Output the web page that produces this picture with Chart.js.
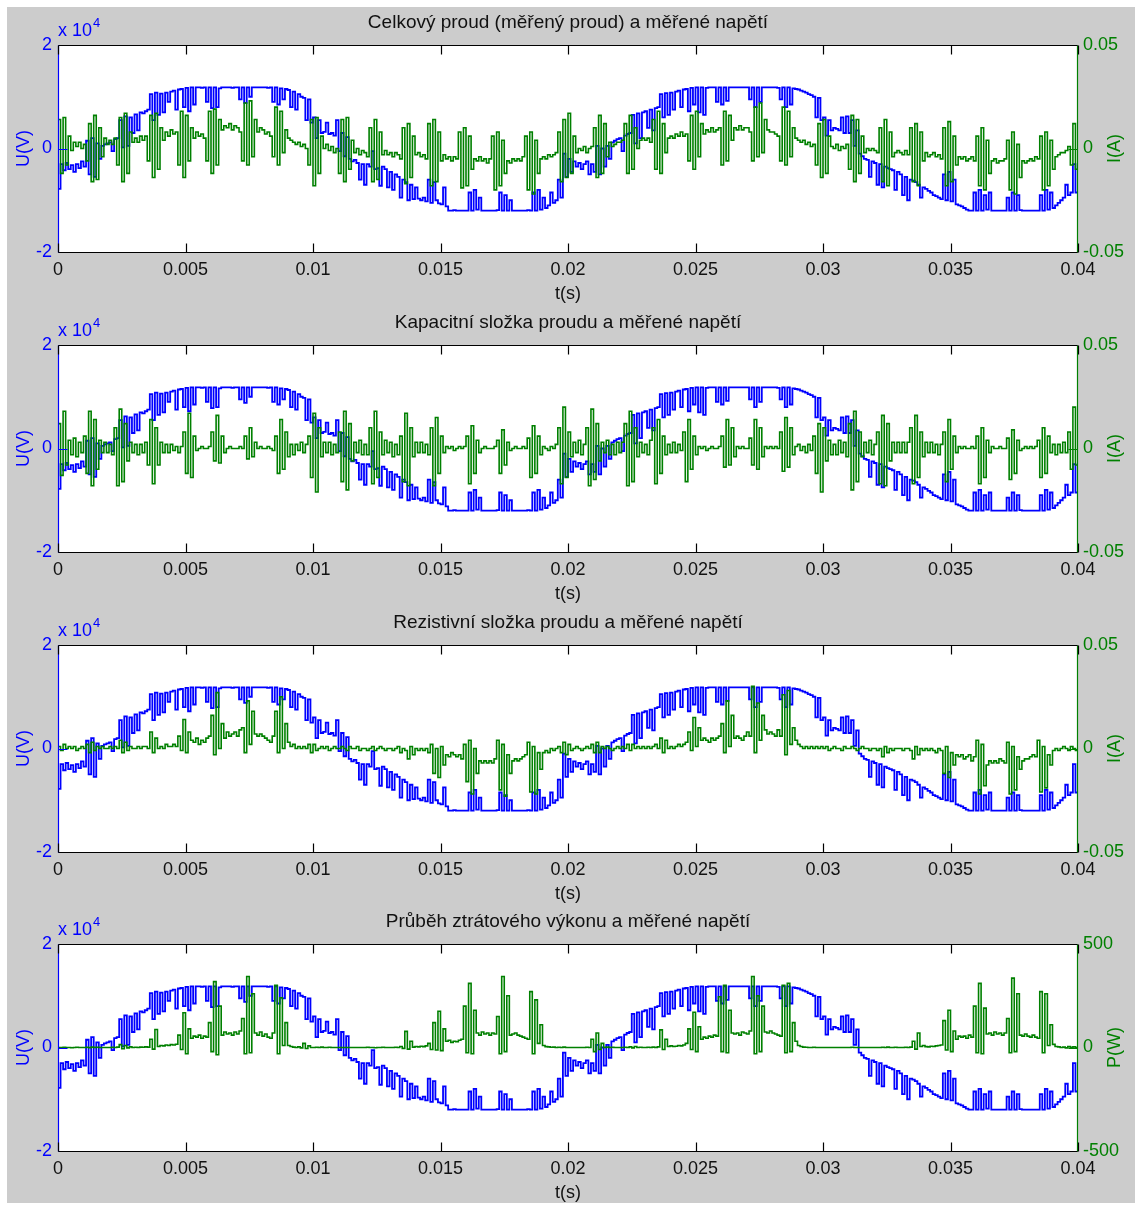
<!DOCTYPE html>
<html>
<head>
<meta charset="utf-8">
<title>Proud a napětí</title>
<script src="https://cdn.jsdelivr.net/npm/chart.js@4.4.1/dist/chart.umd.min.js"></script>
<style>
  body { margin: 0; background: #fff; width: 1135px; height: 1205px; overflow: hidden; }
  #figura { position: absolute; left: 7px; top: 7px; width: 1128px; height: 1196px; background: #cccccc; }
  canvas { position: absolute; left: 0; }
</style>
</head>
<body>
<div id="figura"></div>
<canvas id="g1" width="1135" height="310" style="top:0px"></canvas>
<canvas id="g2" width="1135" height="310" style="top:300px"></canvas>
<canvas id="g3" width="1135" height="310" style="top:600px"></canvas>
<canvas id="g4" width="1135" height="306" style="top:899px"></canvas>
<script>
// vzorky po 0.1 ms, t = 0 .. 0.04 s (jeden řádek = 1 ms)
const KROK = 0.0001;

// měřené napětí [x 10^4 V]
const napeti = [
  -0.78,-0.30,-0.42,-0.28,-0.40,-0.32,-0.45,-0.30,-0.38,-0.25,
  -0.35,0.15,-0.50,0.20,-0.55,0.10,-0.20,0.05,0.08,0.10,
  0.12,-0.05,0.18,0.20,0.55,0.02,0.62,0.05,0.60,0.30,
  0.66,0.35,0.70,0.68,0.72,0.75,1.05,0.55,1.08,0.65,
  1.06,0.70,1.08,0.90,1.10,1.12,0.75,1.14,1.15,0.80,
  1.17,0.72,1.18,0.85,1.18,1.18,1.17,1.18,0.90,1.18,
  0.78,1.18,0.80,1.16,1.18,1.18,1.18,1.18,1.17,1.18,
  1.18,0.95,1.18,0.88,1.18,1.00,1.18,1.18,1.18,1.18,
  1.18,1.18,1.17,1.18,0.90,1.18,0.85,1.16,0.95,1.15,
  1.13,0.80,1.10,0.75,1.05,1.00,0.98,0.55,0.95,0.50,
  0.60,0.20,0.55,0.30,0.32,0.50,0.28,0.30,0.25,0.55,
  -0.05,0.30,-0.15,0.22,-0.20,-0.25,-0.22,-0.28,-0.60,-0.30,
  -0.70,-0.30,-0.35,-0.05,-0.40,-0.38,-0.72,-0.35,-0.40,-0.75,
  -0.45,-0.80,-0.50,-0.55,-0.95,-0.60,-0.65,-1.00,-0.70,-0.98,
  -0.75,-0.97,-1.00,-0.95,-1.02,-0.60,-1.05,-0.65,-1.00,-1.06,
  -1.08,-0.75,-1.12,-1.20,-1.20,-1.19,-1.20,-1.20,-1.20,-1.20,
  -1.20,-0.85,-1.20,-0.80,-1.18,-0.95,-1.20,-1.20,-1.20,-1.20,
  -1.20,-1.20,-1.19,-0.85,-1.20,-0.90,-1.20,-1.00,-1.20,-1.20,
  -1.20,-1.20,-1.20,-1.20,-1.19,-1.20,-0.85,-1.20,-0.80,-1.18,
  -0.95,-1.15,-1.10,-0.85,-1.05,-1.00,-0.60,-0.95,-0.10,-0.55,
  -0.20,-0.45,-0.25,-0.35,-0.28,-0.40,-0.30,-0.25,-0.50,-0.30,
  -0.45,0.05,-0.50,0.00,-0.35,0.05,-0.20,0.12,0.15,0.18,
  0.20,-0.05,0.25,0.28,0.30,0.65,0.10,0.68,0.20,0.70,
  0.72,0.40,0.75,0.35,0.78,0.80,1.05,0.60,1.07,0.65,
  1.08,0.75,1.10,1.12,0.80,1.14,1.15,0.72,1.17,0.85,
  1.18,0.70,1.18,0.65,1.17,1.18,1.18,1.18,0.90,1.18,
  0.85,1.18,0.92,1.18,1.18,1.18,1.18,1.18,1.18,1.18,
  1.18,0.95,1.18,0.80,1.18,0.90,1.18,1.18,1.18,1.18,
  1.18,1.18,1.17,0.95,1.18,0.80,1.18,0.85,1.16,1.15,
  1.14,1.12,1.10,1.08,1.05,1.03,1.00,0.60,0.98,0.55,
  0.60,0.25,0.55,0.35,0.40,0.38,0.35,0.60,0.30,0.62,
  0.30,0.55,0.05,0.35,-0.10,-0.15,-0.20,-0.22,-0.55,-0.25,
  -0.28,-0.70,-0.30,-0.75,-0.35,-0.38,-0.40,-0.42,-0.80,-0.45,
  -0.50,-0.90,-0.55,-1.00,-0.60,-0.62,-0.65,-0.70,-0.95,-0.75,
  -0.78,-0.82,-0.85,-0.90,-0.92,-0.95,-0.98,-0.50,-1.00,-0.45,
  -1.02,-0.60,-1.08,-1.10,-1.12,-1.15,-1.18,-1.20,-1.20,-0.85,
  -1.20,-0.80,-1.20,-0.90,-1.18,-0.85,-1.20,-1.20,-1.20,-1.20,
  -1.20,-1.20,-0.95,-1.20,-0.85,-1.20,-0.90,-1.19,-1.20,-1.20,
  -1.20,-1.20,-1.20,-1.20,-1.20,-0.90,-1.20,-0.80,-1.18,-0.85,
  -1.15,-1.10,-1.05,-1.00,-0.95,-0.70,-0.90,-0.85,-0.30,-0.85,
  -0.25
];

// celkový (měřený) proud [A]
const proudCelkovy = [
  .014,-.012,.015,-.008,.006,-.001,.003,.001,.003,.000,
  .002,-.006,.012,-.016,.016,-.015,.010,-.004,.005,.002,
  .004,.002,.005,-.008,.015,-.016,.017,-.012,.008,.003,
  .005,.003,.006,.004,.006,-.006,.016,-.014,.017,-.010,
  .010,.004,.008,.006,.009,.007,.008,-.008,.018,-.014,
  .016,-.006,.010,.005,.008,.006,.007,.005,-.006,.018,
  -.012,.019,-.008,.014,.009,.011,.010,.012,.009,.011,
  .010,.008,-.006,.022,-.008,.023,-.004,.014,.008,.010,
  .009,.007,.008,.006,-.004,.020,-.008,.018,-.002,.009,
  .005,.004,.003,.002,.003,.001,.002,.000,-.008,.014,
  -.018,.015,-.012,.006,.000,.002,-.001,.001,-.002,.000,
  -.012,.014,-.016,.015,-.010,.004,-.002,.000,-.003,-.001,
  -.002,-.004,.010,-.016,.014,-.015,.008,-.003,-.001,-.003,
  -.002,-.004,-.002,-.003,-.005,.010,-.017,.012,-.014,.006,
  -.003,-.002,-.004,-.003,-.005,.012,-.018,.014,-.016,.008,
  -.006,-.003,-.005,-.004,-.006,-.004,-.005,.008,-.019,.010,
  -.018,.006,-.010,-.005,-.006,-.004,-.006,-.005,-.007,-.005,
  .006,-.020,.008,-.018,.004,-.012,-.006,-.007,-.005,-.006,
  -.005,-.006,-.004,.006,-.020,.008,-.022,.004,-.012,-.005,
  -.004,-.005,-.003,-.004,-.003,-.002,.008,-.016,.014,-.014,
  .017,-.012,.006,-.002,.000,-.001,.001,-.002,.000,.001,
  .010,-.014,.016,-.012,.012,-.004,.003,.001,.002,.003,
  .003,.004,.012,-.012,.016,-.010,.010,.000,.004,.005,
  .004,.005,.003,.014,-.010,.018,-.012,.012,-.002,.005,
  .006,.005,.007,.006,.008,.006,.007,-.006,.016,-.010,
  .018,-.004,.012,.007,.009,.008,.010,.008,.009,.010,
  -.008,.018,-.006,.016,.004,.010,.009,.011,.009,.010,
  .010,.008,-.006,.020,-.004,.022,-.002,.014,.009,.008,
  .008,.007,.006,-.006,.020,-.008,.018,-.004,.010,.005,
  .004,.003,.004,.002,.003,.001,.002,-.008,.012,-.014,
  .014,-.012,.006,.001,.000,.002,-.001,.001,.000,.002,
  -.010,.016,-.016,.014,-.012,.006,-.002,.000,-.001,.000,
  -.001,-.002,.010,-.016,.014,-.018,.008,-.004,-.002,-.001,
  -.002,-.003,-.001,-.003,.010,-.016,.012,-.018,.008,-.006,
  -.002,-.004,-.003,-.002,-.004,-.003,-.005,.010,-.018,.013,
  -.016,.006,-.008,-.004,-.005,-.004,-.006,-.005,-.004,-.006,
  .006,-.018,.010,-.020,.004,-.012,-.006,-.005,-.007,-.006,
  -.006,-.005,.004,-.020,.008,-.022,.002,-.014,-.006,-.007,
  -.006,-.005,-.006,-.004,-.005,.006,-.020,.008,-.018,.004,
  -.010,-.004,-.003,-.002,-.002,-.001,.001,-.008,.012,-.010,
  .016
];

// kapacitní složka proudu [A]
const proudKapacitni = [
  .012,-.013,.018,-.008,.004,-.003,.005,-.004,.003,-.002,
  .006,-.012,.018,-.018,.014,-.010,.004,-.002,.003,-.002,
  .002,-.003,.010,-.018,.019,-.016,.012,-.006,.003,-.002,
  .002,-.003,.002,-.002,.003,-.008,.014,-.017,.010,-.008,
  .003,-.002,.002,-.002,.002,-.001,.001,-.002,.001,.008,
  -.012,.017,-.014,.006,-.001,.000,.001,.000,.000,.001,
  .008,-.006,.016,-.007,.006,-.002,.000,.001,.000,.000,
  .000,.001,.000,.006,-.005,.010,-.004,.003,.000,.001,
  .000,.000,.001,.000,-.001,.006,-.012,.014,-.010,.008,
  -.004,.002,-.003,.002,-.001,.003,-.002,.002,.006,-.014,
  .017,-.021,.010,-.004,.003,-.002,.003,-.003,.002,-.002,
  .008,-.016,.018,-.020,.012,-.006,.003,-.002,.004,-.003,
  .002,-.003,.010,-.017,.018,-.014,.008,-.003,.004,-.002,
  .003,-.004,.002,-.003,.006,-.016,.017,-.018,.010,-.004,
  .003,-.002,.003,-.002,.002,-.003,.010,-.018,.015,-.012,
  .006,-.002,.001,.000,.001,-.001,.000,.001,.000,.001,
  .006,-.017,.011,-.012,.004,-.002,.000,.001,.000,.000,
  .000,.001,.004,-.012,.009,-.008,.003,-.001,.000,.001,
  .000,.000,.001,.000,.005,-.014,.011,-.012,.006,-.003,
  .001,.000,-.001,.001,.000,.002,.010,-.017,.020,-.014,
  .008,-.004,.003,-.002,.004,-.003,.002,.010,-.018,.019,
  -.015,.012,-.006,.003,-.002,.004,-.003,.002,-.003,.003,
  -.002,.003,.012,-.018,.018,-.016,.010,-.004,.003,-.002,
  .002,-.003,.004,.010,-.017,.014,-.012,.006,-.003,.002,
  -.002,.003,-.002,.002,-.001,.008,-.016,.014,-.010,.006,
  -.003,.001,.000,.001,-.001,.000,.001,.000,.000,.001,
  .006,-.009,.014,-.008,.010,-.004,.001,.000,.001,.000,
  .000,.005,-.008,.014,-.010,.010,-.004,.001,.000,.001,
  .000,.001,.000,.008,-.011,.015,-.009,.010,-.003,.001,
  .002,-.001,.001,-.002,.002,-.001,.006,-.012,.012,-.021,
  .010,-.006,.004,-.003,.002,-.003,.004,-.002,.003,-.004,
  .012,-.020,.018,-.016,.008,-.004,.003,-.002,.004,-.003,
  .002,.008,-.017,.016,-.018,.012,-.006,.003,-.002,.003,
  -.002,.003,-.002,.003,.010,-.017,.016,-.014,.008,-.004,
  .003,-.002,.003,-.002,.002,-.003,.002,.008,-.016,.014,
  -.010,.006,-.002,.001,.000,.001,.000,.000,.001,.000,
  .006,-.017,.010,-.014,.004,-.002,.001,.000,.000,.001,
  .000,.000,.005,-.015,.009,-.012,.004,-.001,.000,.001,
  .000,.001,.000,.001,.004,-.014,.010,-.012,.006,-.002,
  .002,-.003,.002,-.002,.003,-.002,.008,-.010,.020,-.008,
  .014
];

// rezistivní složka proudu [A]
const proudRezistivni = [
  .001,-.001,.002,.000,.001,.000,.001,-.001,.000,.001,
  .000,.002,-.002,.003,-.001,.001,.000,.001,.000,.000,
  .001,.000,.001,.000,.004,-.002,.003,-.001,.001,.000,
  .000,.001,.000,.001,.001,.000,.008,-.002,.005,.000,
  .001,.000,.002,.001,.001,.002,.001,.006,-.001,.014,
  -.002,.008,.004,.003,.005,.002,.004,.003,.005,.006,
  .016,-.003,.027,.000,.012,.005,.008,.006,.007,.008,
  .006,.009,.010,-.002,.023,.002,.018,.007,.006,.007,
  .006,.005,.004,.003,.006,.018,-.002,.025,.000,.012,
  .003,.001,.002,.000,.001,.000,.001,.000,.002,-.002,
  .002,-.001,.000,.001,.000,.001,-.001,.000,.001,.000,
  .000,.001,.000,-.001,.001,.000,.000,.001,-.001,.000,
  .000,-.001,.000,.001,-.001,.000,.001,.000,-.001,.000,
  .000,-.001,.000,.001,-.002,.000,-.001,-.005,.001,-.003,
  .000,-.001,.000,-.001,.000,-.002,.002,-.012,.000,-.014,
  .001,-.008,-.003,-.004,-.002,-.003,-.004,-.003,-.005,.002,
  -.016,.004,-.022,.000,-.012,-.006,-.007,-.006,-.007,-.006,
  -.007,-.005,.004,-.020,.002,-.023,-.003,-.012,-.006,-.005,
  -.006,-.005,-.004,-.003,.003,-.021,.001,-.022,-.002,-.010,
  -.002,-.001,-.002,.000,-.001,.000,.001,-.002,.003,-.003,
  .002,-.001,.000,.001,.000,-.001,.000,.001,.000,.002,
  -.002,.003,-.002,.001,.000,.001,.000,-.001,.000,.001,
  .000,.001,.000,.002,-.001,.002,.000,.001,.000,.001,
  .000,.001,.000,.001,.002,.000,.005,-.002,.004,.000,
  .001,.000,.001,.002,.001,.002,.003,.008,-.001,.015,
  .001,.010,.004,.005,.004,.003,.005,.004,.005,.006,
  .012,-.002,.023,.001,.016,.005,.006,.005,.004,.006,
  .008,.006,.030,-.002,.022,.004,.016,.009,.007,.008,
  .007,.006,.009,.006,.026,-.003,.028,.002,.010,.004,
  .002,.001,.000,.001,.000,.001,.000,.001,.000,.001,
  .000,.001,-.001,.000,.001,.000,.000,-.001,.001,.000,
  .000,.001,.000,-.001,.000,.001,.000,.000,-.001,.000,
  .000,-.001,.000,-.004,.001,-.002,.000,-.001,.000,.000,
  .000,-.001,.000,.000,-.001,-.005,.001,-.003,.000,-.001,
  .000,-.001,.000,-.001,-.002,.000,-.001,-.012,.001,-.014,
  -.002,-.008,-.003,-.004,-.003,-.005,-.004,-.003,-.006,-.004,
  .004,-.022,.002,-.018,-.008,-.006,-.007,-.006,-.007,-.005,
  -.006,-.007,.003,-.022,.001,-.020,-.004,-.010,-.006,-.005,
  -.005,-.004,-.003,-.004,.004,-.021,.001,-.019,-.003,-.008,
  -.001,.000,-.001,.000,.001,.000,-.001,.001,.000,-.001,
  .000
];

// ztrátový výkon [W]
const vykon = [
  0,0,1,0,0,-1,0,1,0,0,
  0,1,-1,2,0,1,0,0,0,0,
  0,1,0,2,14,-6,10,-2,3,0,
  1,0,2,1,3,2,40,-8,87,5,
  10,8,12,10,14,12,16,60,-10,168,
  -30,90,45,55,50,60,45,55,50,120,
  -20,318,-35,200,60,75,65,70,60,75,
  65,80,140,-30,343,-25,260,70,60,75,
  55,65,50,45,70,300,-30,240,10,120,
  10,5,2,0,3,-2,20,-5,8,0,
  0,1,0,2,0,0,1,0,0,0,
  0,0,0,0,0,0,0,0,0,0,
  0,1,0,0,-1,0,0,1,0,0,
  0,0,1,0,5,-4,78,-8,30,2,
  5,3,6,4,8,20,-10,120,-12,175,
  -15,90,30,35,25,30,28,35,40,200,
  -25,310,-30,180,70,60,75,65,70,60,
  70,65,150,-30,343,-20,250,60,65,70,
  60,55,50,45,40,270,-30,230,20,110,
  10,4,3,1,2,0,1,0,2,0,
  0,0,0,0,0,0,0,1,0,40,
  -20,70,-10,20,0,2,0,1,0,0,
  0,0,1,0,3,-2,5,0,1,0,
  0,1,0,2,0,3,85,-10,40,5,
  8,5,6,10,8,12,20,90,-10,170,
  -20,100,40,50,45,55,50,60,55,245,
  -20,300,-25,180,70,65,70,60,75,70,
  65,80,343,-30,250,-20,200,75,70,80,
  70,65,60,55,300,-25,310,-20,120,30,
  10,5,2,1,0,0,1,0,0,0,
  0,0,0,0,0,0,0,0,0,0,
  0,1,0,0,0,0,0,0,0,0,
  0,0,0,1,0,2,0,0,1,0,
  0,0,1,0,2,30,-8,70,5,10,
  4,3,6,5,8,10,12,130,-12,180,
  -20,80,40,55,50,55,45,60,50,200,
  -25,310,-30,190,65,70,60,75,65,70,
  60,70,140,-25,335,-20,260,60,55,65,
  55,50,60,50,45,270,-25,260,10,110,
  15,5,3,0,2,-2,4,1,3,0,
  2
];

const nadpisy = [
  'Celkový proud (měřený proud) a měřené napětí',
  'Kapacitní složka proudu a měřené napětí',
  'Rezistivní složka proudu a měřené napětí',
  'Průběh ztrátového výkonu a měřené napětí'
];

const MODRA = '#0000ff';
const ZELENA = '#008000';
const RODINA = '"Liberation Sans", Arial, sans-serif';
const PISMO = { family: RODINA, size: 18 };

// časová osa vzorků
const cas = napeti.map((_, i) => +(i * KROK).toFixed(4));

const cislo = v => String(+v.toFixed(3));

// rámeček os, značky dovnitř a popisky ve stylu MATLABu
const ramecek = {
  id: 'ramecek',
  beforeDraw(chart) {
    const { ctx, chartArea: a } = chart;
    ctx.save();
    ctx.fillStyle = '#fff';
    ctx.fillRect(a.left, a.top, a.right - a.left, a.bottom - a.top);
    ctx.restore();
  },
  afterDraw(chart, args, o) {
    const { ctx, chartArea: a, scales } = chart;
    const L = a.left + 0.5, R = a.right - 0.5, T = a.top + 0.5, B = a.bottom + 0.5;
    const zn = 9;
    ctx.save();
    ctx.lineWidth = 1.2;

    ctx.strokeStyle = MODRA;
    ctx.beginPath();
    ctx.moveTo(L, T); ctx.lineTo(L, B);
    scales.yU.ticks.forEach(t => {
      const y = Math.round(scales.yU.getPixelForValue(t.value)) + 0.5;
      ctx.moveTo(L, y); ctx.lineTo(L + zn, y);
    });
    ctx.stroke();

    ctx.strokeStyle = ZELENA;
    ctx.beginPath();
    ctx.moveTo(R, T); ctx.lineTo(R, B);
    scales.yP.ticks.forEach(t => {
      const y = Math.round(scales.yP.getPixelForValue(t.value)) + 0.5;
      ctx.moveTo(R, y); ctx.lineTo(R - zn, y);
    });
    ctx.stroke();

    ctx.strokeStyle = '#000';
    ctx.beginPath();
    ctx.moveTo(L, T); ctx.lineTo(R, T);
    ctx.moveTo(L, B); ctx.lineTo(R, B);
    scales.x.ticks.forEach(t => {
      const x = Math.round(scales.x.getPixelForValue(t.value)) + 0.5;
      ctx.moveTo(x, T); ctx.lineTo(x, T + zn);
      ctx.moveTo(x, B); ctx.lineTo(x, B - zn);
    });
    ctx.stroke();

    const stred = (a.left + a.right) / 2;
    ctx.font = `19px ${RODINA}`;
    ctx.fillStyle = '#111';
    ctx.textAlign = 'center';
    ctx.textBaseline = 'middle';
    ctx.fillText(o.nadpis, stred, 23);
    ctx.font = `18px ${RODINA}`;
    ctx.fillText('t(s)', stred, a.bottom + 42);

    ctx.fillStyle = MODRA;
    ctx.textAlign = 'left';
    ctx.textBaseline = 'alphabetic';
    ctx.fillText('x 10', a.left, 36);
    ctx.font = `13px ${RODINA}`;
    ctx.fillText('4', a.left + 35, 27);

    ctx.font = `18px ${RODINA}`;
    ctx.textAlign = 'center';
    ctx.textBaseline = 'middle';
    const sy = (a.top + a.bottom) / 2;
    ctx.save();
    ctx.translate(24, sy);
    ctx.rotate(-Math.PI / 2);
    ctx.fillText('U(V)', 0, 0);
    ctx.restore();

    ctx.fillStyle = ZELENA;
    ctx.save();
    ctx.translate(1115, sy);
    ctx.rotate(-Math.PI / 2);
    ctx.fillText(o.popis, 0, 0);
    ctx.restore();

    ctx.restore();
  }
};

function graf(id, nadpis, rada, mez, popis) {
  const platno = document.getElementById(id);
  const spodek = platno.height - 252;
  return new Chart(platno, {
    type: 'line',
    data: {
      labels: cas,
      datasets: [
        { data: rada, yAxisID: 'yP', borderColor: ZELENA, borderWidth: 1.6, stepped: true, order: 0 },
        { data: napeti, yAxisID: 'yU', borderColor: MODRA, borderWidth: 1.8, stepped: true, order: 1 }
      ]
    },
    options: {
      responsive: false,
      animation: false,
      events: [],
      layout: { padding: { top: 45, left: 0, right: 0, bottom: 0 } },
      elements: { point: { radius: 0 }, line: { tension: 0 } },
      plugins: {
        legend: { display: false },
        tooltip: { enabled: false },
        ramecek: { nadpis, popis }
      },
      scales: {
        x: {
          type: 'linear', position: 'bottom', min: 0, max: 0.04,
          grid: { display: false, drawTicks: false }, border: { display: false },
          ticks: { stepSize: 0.005, autoSkip: false, maxRotation: 0, padding: 7,
                   color: '#111', font: PISMO, callback: cislo },
          afterFit: s => { s.height = spodek; }
        },
        yU: {
          type: 'linear', position: 'left', min: -2, max: 2,
          grid: { display: false, drawTicks: false }, border: { display: false },
          ticks: { stepSize: 2, padding: 6, color: MODRA, font: PISMO, callback: cislo },
          afterFit: s => { s.width = 58; }
        },
        yP: {
          type: 'linear', position: 'right', min: -mez, max: mez,
          grid: { display: false, drawTicks: false }, border: { display: false },
          ticks: { stepSize: mez, padding: 5, color: ZELENA, font: PISMO, callback: cislo },
          afterFit: s => { s.width = 57; }
        }
      }
    },
    plugins: [ramecek]
  });
}

graf('g1', nadpisy[0], proudCelkovy, 0.05, 'I(A)');
graf('g2', nadpisy[1], proudKapacitni, 0.05, 'I(A)');
graf('g3', nadpisy[2], proudRezistivni, 0.05, 'I(A)');
graf('g4', nadpisy[3], vykon, 500, 'P(W)');
</script>
</body>
</html>
